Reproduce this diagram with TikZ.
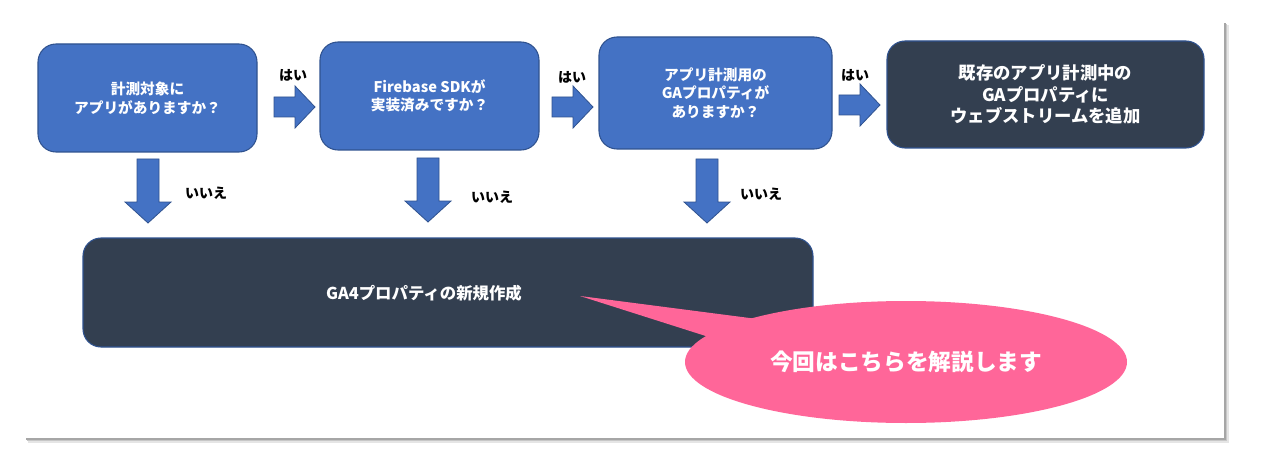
\documentclass[tikz,border=0pt]{standalone}
\usepackage{fontspec}
\setmainfont{Noto Sans CJK JP}
\usetikzlibrary{shapes.geometric}
\definecolor{boxblue}{HTML}{4472C4}
\definecolor{edgeblue}{HTML}{2F528F}
\definecolor{darkbox}{HTML}{333F50}
\definecolor{calloutpink}{HTML}{FF6699}
\tikzset{
  qbox/.style={draw=edgeblue, line width=0.8pt, fill=boxblue, rounded corners=13.5pt,
    text=white, font=\bfseries\fontsize{11}{14}\selectfont, align=center, inner sep=0pt},
  dbox/.style={draw=edgeblue, line width=0.8pt, fill=darkbox, rounded corners=13.5pt,
    text=white, align=center, inner sep=0pt},
  lbl/.style={font=\bfseries\fontsize{10.5}{12}\selectfont, text=black, inner sep=0pt},
  blockarrow/.style={fill=boxblue, draw=edgeblue, line width=0.6pt},
}
\newcommand{\rightblock}[2]{% x0, yc
  \draw[blockarrow] (#1,#2-10) -- (#1+21,#2-10) -- (#1+21,#2-21) -- (#1+41,#2) -- (#1+21,#2+21) -- (#1+21,#2+10) -- (#1,#2+10) -- cycle;}
\newcommand{\downblock}[2]{% xc, y0
  \draw[blockarrow] (#1-11,#2) -- (#1+11,#2) -- (#1+11,#2+43) -- (#1+23,#2+43) -- (#1,#2+64) -- (#1-23,#2+43) -- (#1-11,#2+43) -- cycle;}
\begin{document}
\begin{tikzpicture}[x=0.75pt,y=-0.75pt]
\useasboundingbox (0,0) rectangle (1266,474);
% slide frame with shadow
\fill[black!10] (28,25) rectangle (1229,443);
\fill[black!22] (27,24) rectangle (1227,441);
\fill[black!35] (26,23) rectangle (1225.5,439.5);
\fill[white] (25,22) rectangle (1224,438);
% question boxes
\node[qbox, minimum width=164.25pt, minimum height=81pt] (q1) at (147.5,98) {計測対象に\\アプリがありますか？};
\node[qbox, minimum width=164.25pt, minimum height=81pt] (q2) at (429.5,96) {Firebase SDKが\\実装済みですか？};
\node[qbox, minimum width=174.75pt, minimum height=84pt] (q3) at (715.5,93) {アプリ計測用の\\GAプロパティが\\ありますか？};
\node[dbox, minimum width=237.75pt, minimum height=80.25pt, font=\bfseries\fontsize{13}{16}\selectfont] (a4) at (1045.5,94.5) {既存のアプリ計測中の\\GAプロパティに\\ウェブストリームを追加};
\node[dbox, minimum width=547.5pt, minimum height=81.75pt] (new) at (448,292.5) {};
\node[text=white, font=\bfseries\fontsize{12.3}{14}\selectfont, inner sep=0pt] (newtxt) at (424,293) {GA4プロパティの新規作成};
% block arrows
\rightblock{274}{107}
\rightblock{552}{107}
\rightblock{839}{105}
\downblock{148}{159}
\downblock{428}{158}
\downblock{707}{159}
% labels
\node[lbl] (y1) at (293,75) {はい};
\node[lbl] (y2) at (572,77) {はい};
\node[lbl] (y3) at (855,75) {はい};
\node[lbl] (n1) at (206,193) {いいえ};
\node[lbl] (n2) at (492,197) {いいえ};
\node[lbl] (n3) at (761,194) {いいえ};
% callout
\node[ellipse, fill=calloutpink, minimum width=331.5pt, minimum height=91.5pt, inner sep=0pt] (callout) at (906,362) {};
\coordinate (tip) at (580,296);
\fill[calloutpink] (tip) -- (765,320) -- (712,338) -- cycle;
\node[text=white, font=\bfseries\fontsize{17}{19}\selectfont, inner sep=0pt] (callouttxt) at (callout.center) {今回はこちらを解説します};
\end{tikzpicture}
\end{document}
